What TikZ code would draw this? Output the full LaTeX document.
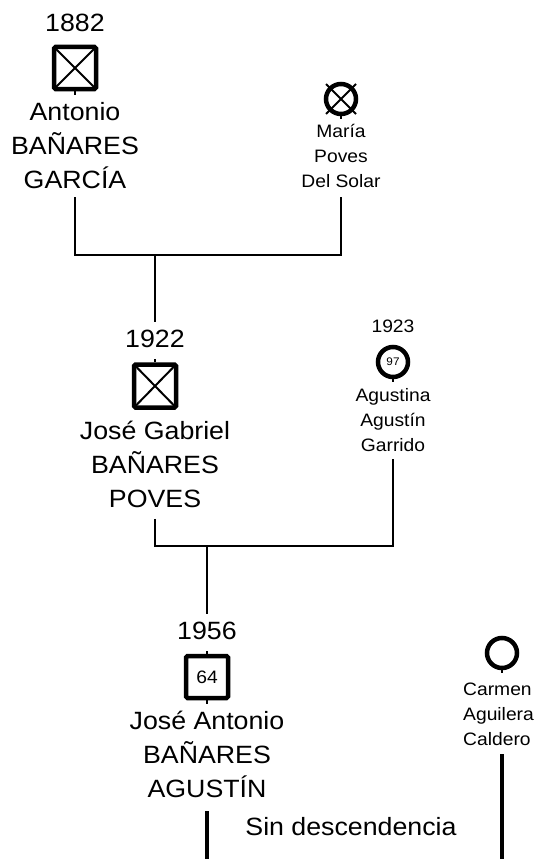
\documentclass[tikz,border=0pt]{standalone}
\usepackage{fontspec}
\setmainfont{Liberation Sans}[FakeStretch=1.07]
\usetikzlibrary{positioning,shapes.misc}

\begin{document}
\begin{tikzpicture}[
x=1pt,y=-1pt,
every node/.style={inner sep=0pt},
big/.style={font=\fontsize{25}{34}\selectfont},
mid/.style={font=\fontsize{18}{25}\selectfont},
bigname/.style={big,align=center},
smallname/.style={mid,align=center},
male/.style={draw,line width=4.5pt,rounded corners=1.5pt,minimum size=42pt},
dead/.style={path picture={\draw[line width=2pt] (path picture bounding box.north west)--(path picture bounding box.south east) (path picture bounding box.north east)--(path picture bounding box.south west);}},
female/.style={draw,circle,line width=4.5pt,minimum size=30pt},
xmark/.style={cross out,draw,line width=2pt,minimum size=28pt},
link/.style={line width=2.5pt},
heavy/.style={line width=4pt}
]
\useasboundingbox (0,0) rectangle (541,859);
% first generation
\node[male,dead] (antonio) at (75,68) {};
\node[big,above=13pt of antonio] (antyear) {1882};
\node[bigname,below=11pt of antonio] (antname) {Antonio\\BAÑARES\\GARCÍA};
\node[female] (maria) at (341,99) {};
\node[xmark] (mariax) at (maria) {};
\node[smallname,below=8pt of maria] (marname) {María\\Poves\\Del Solar};
% second generation
\node[male,dead,minimum height=43pt] (gabriel) at (155,386) {};
\node[big,above=14pt of gabriel] (gabyear) {1922};
\node[bigname,below=11pt of gabriel] (gabname) {José Gabriel\\BAÑARES\\POVES};
\node[female] (agustina) at (393,362) {\fontsize{11}{11}\selectfont 97};
\node[mid,above=12pt of agustina] (agusyear) {1923};
\node[smallname,below=9pt of agustina] (agusname) {Agustina\\Agustín\\Garrido};
% third generation
\node[male] (josean) at (207,677) {\fontsize{18}{18}\selectfont 64};
\node[big,above=14pt of josean] (jayear) {1956};
\node[bigname,below=11pt of josean] (janame) {José Antonio\\BAÑARES\\AGUSTÍN};
\node[female] (carmen) at (502,653) {};
\node[smallname,align=left,anchor=north west] (carname) at (463,683) {Carmen\\Aguilera\\Caldero};
\node[big] (nodesc) at (351,827) {Sin descendencia};
\coordinate (fam1) at (155,255);
\coordinate (fam2) at (207,546);
\coordinate (base) at (0,859);
% stubs
\draw[link] (antonio.south) -- ++(0,4);
\draw[link] (maria.south) -- ++(0,3);
\draw[link] (gabriel.north) -- ++(0,-3);
\draw[link] (agustina.south) -- ++(0,3);
\draw[link] (josean.north) -- ++(0,-3);
\draw[link] (josean.south) -- ++(0,4);
\draw[link] (carmen.south) -- ++(0,3);
% lines
\draw[link,shorten <=8pt,shorten >=9pt] (antname.south) |- (fam1) -| (marname.south);
\draw[link,shorten >=8pt] (fam1) -- (gabyear.north);
\draw[link,shorten <=11pt,shorten >=7pt] (gabname.south) |- (fam2) -| (agusname.south);
\draw[link,shorten >=8pt] (fam2) -- (jayear.north);
\draw[heavy,shorten <=13pt] (janame.south) -- (janame.south |- base);
\draw[heavy,shorten <=8pt] (carname.south -| carmen.south) -- (carmen.south |- base);
\end{tikzpicture}
\end{document}
